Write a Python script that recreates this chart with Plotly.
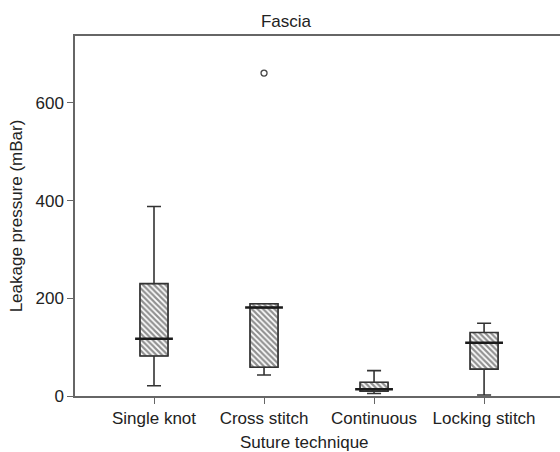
import plotly.graph_objects as go

categories = ["Single knot", "Cross stitch", "Continuous", "Locking stitch"]
lower_whisker = [21, 43, 5, 2]
q1 = [82, 59, 10, 55]
median = [117, 181, 14, 109]
q3 = [230, 189, 28, 130]
upper_whisker = [388, 189, 52, 149]
outlier_cat = ["Cross stitch"]
outlier_val = [661]

y_ticks = [0, 200, 400, 600]

font_family = "Liberation Sans, Arial, sans-serif"
line_col = "#666666"
dark = "#333333"
txt = "#222222"
bw = 0.255

W, H = 560, 452
L, R, T, B = 75, 0, 36, 56

fig = go.Figure()

# hatched boxes
fig.add_trace(go.Bar(
    x=categories,
    y=[b - a for a, b in zip(q1, q3)],
    base=q1,
    width=bw,
    marker=dict(
        color="white",
        line=dict(color=line_col, width=1),
        pattern=dict(shape="\\", fgcolor="#222222", bgcolor="white", size=4, solidity=0.55),
    ),
    showlegend=False,
    hoverinfo="skip",
))

# whiskers / outline
fig.add_trace(go.Box(
    x=categories,
    q1=q1,
    median=median,
    q3=q3,
    lowerfence=lower_whisker,
    upperfence=upper_whisker,
    width=bw,
    whiskerwidth=0.5,
    fillcolor="rgba(0,0,0,0)",
    line=dict(color=dark, width=1.6),
    boxpoints=False,
    showlegend=False,
))

# thicker median lines
fig.add_trace(go.Scatter(
    x=categories,
    y=median,
    mode="markers",
    marker=dict(symbol="line-ew", size=27, line=dict(color="#1a1a1a", width=2.5)),
    showlegend=False,
    hoverinfo="skip",
))

# outlier
fig.add_trace(go.Scatter(
    x=outlier_cat,
    y=outlier_val,
    mode="markers",
    marker=dict(symbol="circle-open", size=6, color="#444444", line=dict(width=1.3)),
    showlegend=False,
))

pw = W - L - R
ph = H - T - B

fig.update_layout(
    width=W,
    height=H,
    margin=dict(l=L, r=R, t=T, b=B, autoexpand=False),
    paper_bgcolor="white",
    plot_bgcolor="white",
    barmode="overlay",
    font=dict(family=font_family, size=18, color=txt),
    title=dict(text="Fascia", x=(286 - L) / pw, xanchor="center", xref="paper",
               y=1 - 21 / H, yref="container", yanchor="middle",
               font=dict(size=17, color=txt), automargin=False),
    xaxis=dict(
        type="category",
        categoryorder="array",
        categoryarray=categories,
        range=[-0.718, 3.69],
        showline=True,
        linecolor=line_col,
        linewidth=1.5,
        mirror=True,
        ticks="outside",
        ticklen=6,
        tickcolor=line_col,
        showgrid=False,
        zeroline=False,
        automargin=False,
        tickfont=dict(size=17),
    ),
    yaxis=dict(
        range=[0, 737],
        tickvals=y_ticks,
        showline=True,
        linecolor=line_col,
        linewidth=1.5,
        ticks="outside",
        ticklen=6,
        tickcolor=line_col,
        showgrid=False,
        zeroline=False,
        automargin=False,
        title=dict(text="Leakage pressure (mBar)", standoff=9, font=dict(size=17)),
        tickfont=dict(size=17),
    ),
    annotations=[dict(
        text="Suture technique",
        xref="paper", yref="paper",
        x=(304.5 - L) / pw, y=-(442 - (H - B)) / ph,
        xanchor="center", yanchor="middle",
        showarrow=False,
        font=dict(size=17, color=txt),
    )],
)

fig.write_html(
    "out.html",
    config={"displayModeBar": False},
    post_script="document.body.style.margin='0';document.body.style.overflow='hidden';",
)
